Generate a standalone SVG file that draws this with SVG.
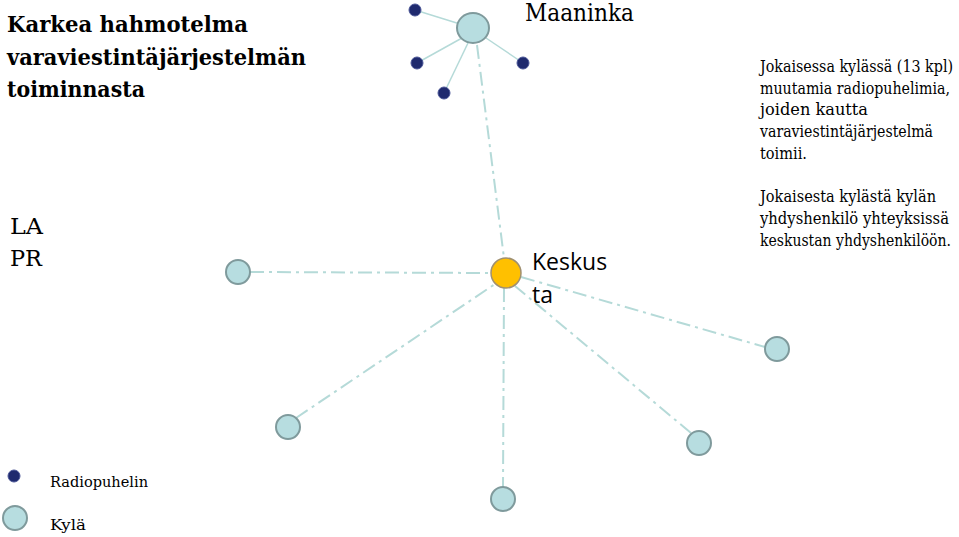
<svg xmlns="http://www.w3.org/2000/svg" width="959" height="537" viewBox="0 0 959 537">
<style>
.serif{font-family:"DejaVu Serif",serif;fill:#000}
.sans{font-family:"Open Sans","Noto Sans",sans-serif;fill:#000}
.village{fill:#b7dde0;stroke:#7f9a9c;stroke-width:2}
.radio{fill:#1f2a6e;stroke:#4a5596;stroke-width:1}
.dd{stroke:#b5dad8;stroke-width:2;fill:none;stroke-dasharray:14 5 3 5}
.solid{stroke:#b5dad8;stroke-width:1.5;fill:none}
</style>
<rect width="959" height="537" fill="#fff"/>
<g id="connectors">
<line class="solid" x1="415" y1="10" x2="460" y2="24"/>
<line class="solid" x1="417" y1="63" x2="462" y2="38"/>
<line class="solid" x1="444" y1="93" x2="468" y2="43"/>
<line class="solid" x1="523" y1="63" x2="486" y2="38"/>
<line class="dd" x1="477" y1="45" x2="504" y2="258"/>
<line class="dd" x1="250" y1="272" x2="491" y2="273"/>
<line class="dd" x1="521" y1="277" x2="765" y2="347"/>
<line class="dd" x1="296" y1="418" x2="495" y2="284"/>
<line class="dd" x1="691" y1="433" x2="515" y2="286"/>
<line class="dd" x1="504" y1="288" x2="503" y2="487"/>
</g>
<g id="maaninka"><ellipse class="village" cx="473" cy="28" rx="16" ry="15"/></g>
<g id="radio1"><circle class="radio" cx="415" cy="10" r="6"/></g>
<g id="radio2"><circle class="radio" cx="417" cy="63" r="6"/></g>
<g id="radio3"><circle class="radio" cx="444" cy="93" r="6"/></g>
<g id="radio4"><circle class="radio" cx="523" cy="63" r="6"/></g>
<g id="keskusta"><circle cx="506" cy="273" r="15" fill="#ffc000" stroke="#a09070" stroke-width="1.5"/></g>
<g id="village-w"><circle class="village" cx="238" cy="272" r="12"/></g>
<g id="village-e"><circle class="village" cx="777" cy="349" r="12"/></g>
<g id="village-sw"><circle class="village" cx="288" cy="427" r="12"/></g>
<g id="village-se"><circle class="village" cx="699" cy="443" r="12"/></g>
<g id="village-s"><circle class="village" cx="503" cy="499" r="12"/></g>
<g id="texts">
<g class="serif" font-size="23" font-weight="bold">
<text x="7" y="32" textLength="241" lengthAdjust="spacingAndGlyphs">Karkea hahmotelma</text>
<text x="7" y="65" textLength="299" lengthAdjust="spacingAndGlyphs">varaviestintäjärjestelmän</text>
<text x="7" y="97" textLength="138" lengthAdjust="spacingAndGlyphs">toiminnasta</text>
</g>
<text class="serif" font-size="24" x="525" y="21" textLength="109" lengthAdjust="spacingAndGlyphs">Maaninka</text>
<text class="serif" font-size="22" x="10" y="234" textLength="33" lengthAdjust="spacingAndGlyphs">LA</text>
<text class="serif" font-size="22" x="10" y="266" textLength="32" lengthAdjust="spacingAndGlyphs">PR</text>
<text class="sans" font-size="23" x="532" y="270">Keskus</text>
<text class="sans" font-size="23" x="532" y="303">ta</text>
<g class="serif" font-size="16">
<text x="760" y="72" textLength="193" lengthAdjust="spacingAndGlyphs">Jokaisessa kylässä (13 kpl)</text>
<text x="760" y="94" textLength="190" lengthAdjust="spacingAndGlyphs">muutamia radiopuhelimia,</text>
<text x="760" y="115" textLength="108" lengthAdjust="spacingAndGlyphs">joiden kautta</text>
<text x="760" y="137" textLength="173" lengthAdjust="spacingAndGlyphs">varaviestintäjärjestelmä</text>
<text x="760" y="159" textLength="47" lengthAdjust="spacingAndGlyphs">toimii.</text>
<text x="760" y="202" textLength="176" lengthAdjust="spacingAndGlyphs">Jokaisesta kylästä kylän</text>
<text x="760" y="224" textLength="189" lengthAdjust="spacingAndGlyphs">yhdyshenkilö yhteyksissä</text>
<text x="760" y="246" textLength="191" lengthAdjust="spacingAndGlyphs">keskustan yhdyshenkilöön.</text>
</g>
</g>
<g id="legend">
<circle class="radio" cx="14" cy="476" r="6"/>
<circle class="village" cx="15" cy="518" r="12"/>
<text class="serif" font-size="14.5" x="50" y="487" textLength="98" lengthAdjust="spacingAndGlyphs">Radiopuhelin</text>
<text class="serif" font-size="14.5" x="50" y="530" textLength="36" lengthAdjust="spacingAndGlyphs">Kylä</text>
</g>
</svg>
